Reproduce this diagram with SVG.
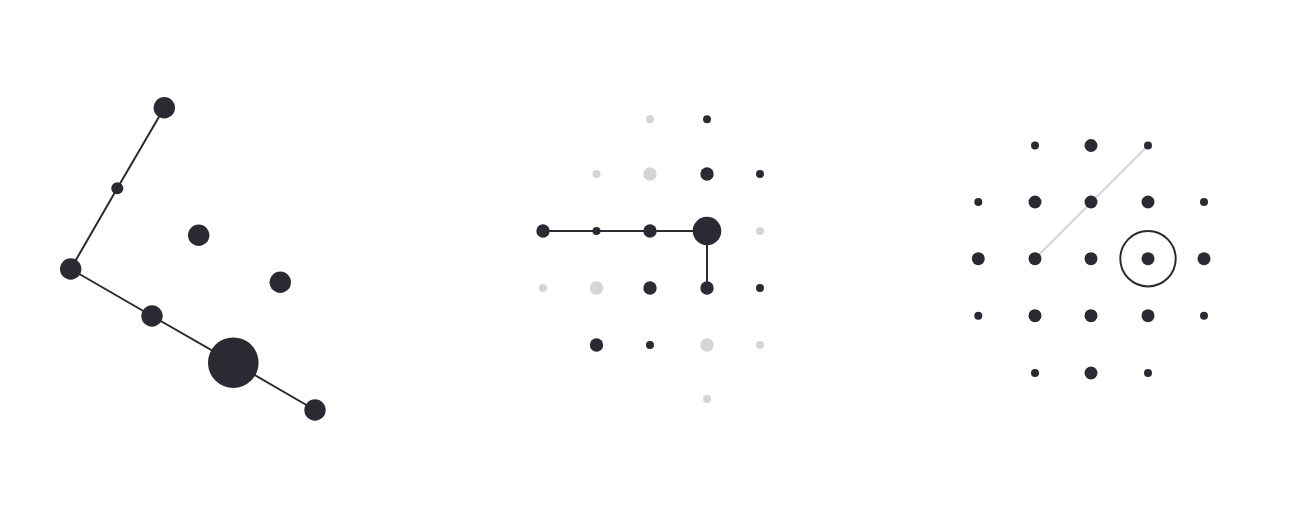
<svg xmlns="http://www.w3.org/2000/svg" width="1289" height="518" viewBox="0 0 1289 518">
<style>
.d{fill:#2a2a33}
.g{fill:#d5d5d7}
.ln{stroke:#2a2a33;stroke-width:2;fill:none}
.lg{stroke:#d5d5d7;stroke-width:2;fill:none}
</style>
<rect width="1289" height="518" fill="#ffffff"/>
<g id="connectors">
<polyline class="ln" points="164.3,107.7 117.3,188.3 70.7,269 152,316 233.3,362.7 315,410"/>
<polyline class="ln" points="543,231 707,231 707,288"/>
<line class="lg" x1="1148" y1="145.5" x2="1035" y2="258.7"/>
</g>
<g id="panel1">
<circle id="p1n1" class="d" cx="164.3" cy="107.7" r="10.7"/>
<circle id="p1n2" class="d" cx="117.3" cy="188.3" r="6"/>
<circle id="p1n3" class="d" cx="70.7" cy="269" r="10.7"/>
<circle id="p1n4" class="d" cx="198.7" cy="235.3" r="10.7"/>
<circle id="p1n5" class="d" cx="280.3" cy="282.3" r="10.7"/>
<circle id="p1n6" class="d" cx="152" cy="316" r="10.7"/>
<circle id="p1n7" class="d" cx="233.3" cy="362.7" r="25.3"/>
<circle id="p1n8" class="d" cx="315" cy="410" r="10.7"/>
</g>
<g id="panel2">
<circle id="p2a" class="g" cx="650" cy="119.3" r="4"/>
<circle id="p2b" class="d" cx="707" cy="119.3" r="4"/>
<circle id="p2c" class="g" cx="596.5" cy="174" r="4"/>
<circle id="p2d" class="g" cx="650" cy="174" r="6.7"/>
<circle id="p2e" class="d" cx="707" cy="174" r="6.7"/>
<circle id="p2f" class="d" cx="760" cy="174" r="4"/>
<circle id="p2g" class="d" cx="543" cy="231" r="6.7"/>
<circle id="p2h" class="d" cx="596.5" cy="231" r="4"/>
<circle id="p2i" class="d" cx="650" cy="231" r="6.7"/>
<circle id="p2j" class="d" cx="707" cy="231" r="14.3"/>
<circle id="p2k" class="g" cx="760" cy="231" r="4"/>
<circle id="p2l" class="g" cx="543" cy="288" r="4"/>
<circle id="p2m" class="g" cx="596.5" cy="288" r="6.7"/>
<circle id="p2n" class="d" cx="650" cy="288" r="6.7"/>
<circle id="p2o" class="d" cx="707" cy="288" r="6.7"/>
<circle id="p2p" class="d" cx="760" cy="288" r="4"/>
<circle id="p2q" class="d" cx="596.5" cy="345" r="6.7"/>
<circle id="p2r" class="d" cx="650" cy="345" r="4"/>
<circle id="p2s" class="g" cx="707" cy="345" r="6.7"/>
<circle id="p2t" class="g" cx="760" cy="345" r="4"/>
<circle id="p2u" class="g" cx="707" cy="399" r="4"/>
</g>
<g id="panel3">
<circle class="d" cx="1035" cy="145.5" r="4"/>
<circle class="d" cx="1091" cy="145.5" r="6.5"/>
<circle class="d" cx="1148" cy="145.5" r="4"/>
<circle class="d" cx="978.3" cy="202" r="4"/>
<circle class="d" cx="1035" cy="202" r="6.5"/>
<circle class="d" cx="1091" cy="202" r="6.5"/>
<circle class="d" cx="1148" cy="202" r="6.5"/>
<circle class="d" cx="1204" cy="202" r="4"/>
<circle class="d" cx="978.3" cy="258.7" r="6.5"/>
<circle class="d" cx="1035" cy="258.7" r="6.5"/>
<circle class="d" cx="1091" cy="258.7" r="6.5"/>
<circle class="d" cx="1148" cy="258.7" r="6.5"/>
<circle class="d" cx="1204" cy="258.7" r="6.5"/>
<circle id="p3ring" cx="1148" cy="258.7" r="27.7" fill="none" stroke="#2a2a33" stroke-width="2"/>
<circle class="d" cx="978.3" cy="315.7" r="4"/>
<circle class="d" cx="1035" cy="315.7" r="6.5"/>
<circle class="d" cx="1091" cy="315.7" r="6.5"/>
<circle class="d" cx="1148" cy="315.7" r="6.5"/>
<circle class="d" cx="1204" cy="315.7" r="4"/>
<circle class="d" cx="1035" cy="373" r="4"/>
<circle class="d" cx="1091" cy="373" r="6.5"/>
<circle class="d" cx="1148" cy="373" r="4"/>
</g>
</svg>
